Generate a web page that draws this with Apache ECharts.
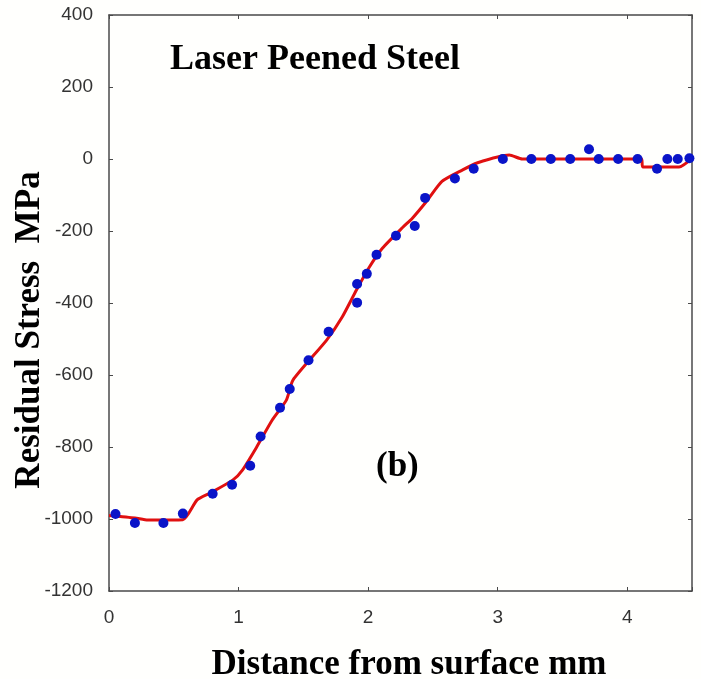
<!DOCTYPE html>
<html>
<head>
<meta charset="utf-8">
<script src="https://cdn.jsdelivr.net/npm/echarts@6/dist/echarts.min.js"></script>
<style>
  html, body { margin: 0; padding: 0; background: #fff; }
  #main { width: 701px; height: 679px; }
</style>
</head>
<body>
<div id="main"></div>
<script>
// measured points (blue dots)
var measX = [0.05, 0.2, 0.42, 0.57, 0.8, 0.95, 1.09, 1.17, 1.32, 1.395, 1.54, 1.695, 1.915, 1.915, 1.99, 2.065, 2.215, 2.36, 2.44, 2.67, 2.815, 3.04, 3.26, 3.41, 3.56, 3.705, 3.78, 3.93, 4.08, 4.23, 4.31, 4.39, 4.48];
var measY = [-986, -1011, -1011, -985, -930, -905, -852, -771, -691, -639, -559, -480, -399, -347, -319, -266, -213, -186, -108, -54, -27, 0, 0, 0, 0, 27, 0, 0, 0, -27, 0, 0, 2];

// model curve (red line)
var fitX = [0, 0.2, 0.3, 0.57, 0.68, 0.78, 0.955, 1.03, 1.14, 1.26, 1.37, 1.42, 1.68, 1.80, 1.91, 2.01, 2.11, 2.27, 2.34, 2.45, 2.57, 2.73, 2.84, 3.09, 3.19, 4.11, 4.12, 4.40, 4.5];
var fitY = [-990, -997, -1003, -1002, -947, -928, -892, -864, -800, -725, -669, -614, -503, -439, -364, -300, -248, -189, -165, -118, -62, -30, -11, 11, 0, 0, -22, -22, 2];

var yTicks = [-1200, -1000, -800, -600, -400, -200, 0, 200, 400];
var xTicks = [0, 1, 2, 3, 4];

function zip(a, b) {
  var out = [];
  for (var i = 0; i < a.length; i++) out.push([a[i], b[i]]);
  return out;
}

var chart = echarts.init(document.getElementById('main'));
var axisCol = '#4a4a4a';
var serif = '"Liberation Serif", "DejaVu Serif", serif';
var sans = 'Arial, "Liberation Sans", sans-serif';

function frameAxis(extra) {
  var a = {
    type: 'value',
    axisLine: { show: true, onZero: false, lineStyle: { color: axisCol, width: 1.5 } },
    axisTick: { show: true, inside: true, length: 4, lineStyle: { color: axisCol } },
    axisLabel: { show: false },
    splitLine: { show: false }
  };
  for (var k in extra) a[k] = extra[k];
  return a;
}

var option = {
  backgroundColor: '#fffffd',
  animation: false,
  title: {
    text: 'Laser Peened Steel',
    left: 165,
    top: 37,
    textStyle: { fontFamily: serif, fontWeight: 'bold', fontSize: 36, color: '#000' }
  },
  grid: { left: 109, right: 9, top: 15, bottom: 88, containLabel: false, outerBoundsMode: 'none' },
  xAxis: [
    frameAxis({
      min: 0, max: 4.5, interval: 1,
      axisLabel: {
        margin: 17, fontFamily: sans, fontSize: 19, color: '#333',
        formatter: function (v) { return xTicks.indexOf(v) >= 0 ? String(v) : ''; }
      }
    }),
    frameAxis({ position: 'top', min: 0, max: 4.5, interval: 1 })
  ],
  yAxis: [
    frameAxis({
      min: -1200, max: 400, interval: 200,
      axisLabel: {
        margin: 16, fontFamily: sans, fontSize: 19, color: '#333',
        formatter: function (v) { return yTicks.indexOf(v) >= 0 ? String(v) : ''; }
      }
    }),
    frameAxis({ position: 'right', min: -1200, max: 400, interval: 200 })
  ],
  graphic: [{
    type: 'text',
    left: 376,
    top: 449,
    style: { text: '(b)', font: 'bold 35px ' + serif, fill: '#000' }
  }, {
    type: 'text',
    x: 409,
    y: 665,
    style: {
      text: 'Distance from surface mm', font: 'bold 35px ' + serif, fill: '#000',
      align: 'center', verticalAlign: 'middle'
    }
  }, {
    type: 'text',
    x: 30,
    y: 330,
    rotation: Math.PI / 2,
    style: {
      text: 'Residual Stress  MPa', font: 'bold 35px ' + serif, fill: '#000',
      align: 'center', verticalAlign: 'middle'
    }
  }],
  series: [{
    name: 'model',
    type: 'line',
    data: zip(fitX, fitY),
    showSymbol: false,
    smooth: 0.2,
    lineStyle: { color: '#e01010', width: 3 },
    z: 2
  }, {
    name: 'measured',
    type: 'scatter',
    data: zip(measX, measY),
    symbolSize: 10,
    itemStyle: { color: '#0a14c8', opacity: 1 },
    z: 3
  }]
};

chart.setOption(option);
</script>
</body>
</html>
